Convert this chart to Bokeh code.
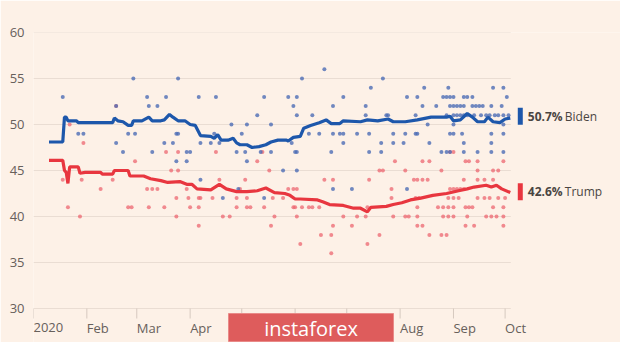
import datetime as dt
from bokeh.plotting import figure
from bokeh.models import Range1d, FixedTicker
from bokeh.core.properties import value
from bokeh.embed import file_html
from bokeh.resources import INLINE

# ---------------- data (days counted from 1 Jan 2020) ----------------
biden_day = [9, 17, 18, 19, 20, 25, 26, 46, 47, 49, 52, 55, 57, 58, 63, 67, 69, 74, 76, 79, 81, 84,
             88, 91, 94, 97, 103, 105, 107, 109, 113, 116, 118, 120, 124, 127, 131, 135, 138, 142,
             147, 148, 151, 155, 157, 161, 166, 170, 173, 178, 180, 190, 194, 200, 206, 209, 216,
             223, 231, 240, 242, 244, 248, 252, 255, 258, 262, 264, 267, 271, 274, 277]
biden_avg = [48.1, 48.1, 50.8, 50.8, 50.4, 50.4, 50.2, 50.2, 50.7, 50.4, 50.3, 49.9, 49.9, 50.4,
             50.4, 50.8, 50.4, 50.4, 50.5, 51.1, 50.8, 50.4, 50.4, 50.0, 49.9, 48.8, 48.7, 48.5,
             48.9, 48.3, 48.3, 48.5, 48.0, 47.8, 47.8, 47.5, 47.6, 47.8, 48.1, 48.3, 48.3, 48.2,
             48.6, 48.7, 49.6, 49.9, 50.2, 50.5, 50.1, 50.1, 50.4, 50.3, 50.5, 50.4, 50.6, 50.3,
             50.3, 50.5, 50.8, 50.8, 50.9, 50.4, 50.5, 51.2, 50.8, 50.3, 50.3, 50.8, 50.3, 50.2,
             50.6, 50.7]

trump_day = [9, 17, 18, 19, 20, 21, 26, 27, 30, 39, 40, 46, 47, 55, 56, 64, 68, 74, 78, 85, 89,
             92, 95, 103, 108, 112, 118, 124, 130, 135, 140, 146, 149, 152, 155, 165, 168, 172,
             180, 186, 190, 194, 196, 205, 209, 214, 219, 225, 232, 240, 247, 252, 256, 263, 266,
             269, 272, 277]
trump_avg = [46.1, 46.1, 45.0, 44.8, 43.6, 45.4, 45.4, 44.7, 44.8, 44.8, 44.6, 44.6, 45.0, 45.0,
             44.4, 44.4, 44.1, 43.9, 43.7, 43.8, 43.5, 43.5, 43.0, 42.9, 43.5, 43.0, 42.7, 42.7,
             42.8, 43.1, 42.6, 42.5, 42.3, 41.9, 41.9, 41.8, 41.6, 41.3, 41.2, 40.9, 40.9, 40.5,
             41.0, 41.1, 41.3, 41.5, 41.8, 42.0, 42.3, 42.5, 42.8, 43.0, 43.2, 43.4, 43.2, 43.4,
             43.0, 42.6]

biden_poll_day = [17, 58, 48, 66, 67, 72, 77, 84, 96, 106, 130, 134, 148, 151, 153, 156, 115, 124,
                  138, 153, 26, 29, 55, 59, 83, 84, 105, 121, 160, 48, 76, 81, 97, 103, 108, 150,
                  52, 69, 89, 91, 118, 123, 132, 138, 152, 153, 83, 89, 124, 145, 153, 97, 110, 119,
                  134, 169, 203, 196, 227, 241, 267, 273, 180, 217, 223, 238, 240, 242, 244, 250,
                  252, 255, 275, 174, 193, 226, 234, 242, 244, 246, 248, 250, 255, 257, 259, 261,
                  266, 272, 162, 193, 205, 206, 222, 240, 244, 246, 248, 250, 252, 256, 260, 263,
                  265, 268, 270, 273, 276, 229, 244, 273, 166, 174, 178, 180, 188, 195, 209, 216,
                  222, 223, 242, 244, 249, 266, 273, 180, 202, 209, 215, 230, 250, 266, 173, 195,
                  202, 237, 240, 242, 250, 258, 266, 273, 174, 185, 217]
biden_poll_val = [53, 55, 52, 53, 52, 52, 53, 55, 53, 53, 51, 53, 53, 52, 53, 55, 50, 50,
                  50, 51, 49, 49, 49, 49, 49, 49, 49, 49, 49, 48, 48, 48, 48, 48, 48, 48,
                  47, 47, 47, 47, 47, 47, 47, 47, 47, 47, 46, 46, 46, 45, 45, 44, 42, 43,
                  42, 56, 55, 54, 54, 54, 54, 54, 53, 53, 53, 53, 53, 53, 53, 53,
                  53, 53, 53, 52, 52, 52, 52, 52, 52, 52, 52, 52, 52, 52, 52, 52,
                  52, 52, 51, 51, 51, 51, 51, 51, 51, 51, 51, 51, 51, 51, 51, 51,
                  51, 51, 51, 51, 51, 50, 50, 50, 49, 49, 49, 49, 49, 49, 49, 49,
                  49, 49, 49, 49, 49, 49, 49, 48, 48, 48, 48, 48, 48, 48, 47, 47,
                  47, 47, 47, 47, 47, 47, 47, 47, 43, 43, 43]

trump_poll_day = [48, 21, 29, 59, 77, 84, 106, 130, 133, 137, 80, 84, 17, 20, 27, 28, 39, 46, 55,
                  57, 66, 69, 72, 67, 76, 83, 83, 89, 90, 91, 96, 97, 96, 96, 104, 108, 110, 114,
                  118, 118, 120, 123, 124, 126, 124, 134, 138, 139, 140, 145, 148, 151, 153, 151,
                  152, 153, 155, 156, 160, 210, 226, 230, 244, 242, 251, 253, 258, 273, 201, 203,
                  216, 237, 258, 267, 270, 169, 174, 195, 221, 223, 226, 229, 250, 258, 262, 267,
                  242, 244, 246, 248, 250, 208, 208, 222, 224, 241, 244, 247, 258, 262, 265, 270,
                  274, 162, 166, 194, 223, 235, 238, 241, 244, 251, 253, 255, 267, 273, 180, 188,
                  193, 209, 216, 218, 223, 238, 241, 244, 252, 263, 266, 269, 273, 174, 185, 223,
                  226, 251, 256, 273, 167, 173, 201, 230, 237, 240, 194, 173]
trump_poll_val = [52, 50, 48, 46, 47, 47, 47, 46, 47, 45, 45, 45, 44, 41, 40, 44, 43, 44, 41,
                  41, 43, 43, 43, 41, 41, 42, 40, 43, 42, 41, 42, 42, 41, 39, 42, 44, 40, 40,
                  42, 41, 43, 44, 41, 41, 42, 41, 39, 42, 40, 42, 43, 43, 43, 41,
                  41, 40, 37, 41, 41, 46, 46, 46, 47, 47, 46, 46, 46, 46, 45, 45,
                  45, 45, 45, 45, 45, 44, 44, 44, 44, 44, 44, 44, 44, 44, 44, 44,
                  43, 43, 43, 43, 43, 43, 42, 42, 42, 42, 42, 42, 42, 42, 42, 42,
                  42, 41, 41, 41, 41, 41, 41, 41, 41, 41, 41, 41, 41, 41, 40, 40,
                  40, 40, 40, 40, 40, 40, 40, 40, 40, 40, 40, 40, 40, 39, 39, 39,
                  39, 39, 39, 39, 38, 38, 38, 38, 38, 38, 37, 36]

month_ticks = ["2020-01-01", "2020-02-01", "2020-03-01", "2020-04-01", "2020-05-01",
               "2020-06-01", "2020-07-01", "2020-08-01", "2020-09-01", "2020-10-01"]
month_labels = ["2020", "Feb", "Mar", "Apr", "May", "Jun", "Jul", "Aug", "Sep", "Oct"]
y_ticks = [30, 35, 40, 45, 50, 55, 60]

biden_last, trump_last = "50.7%", "42.6%"
watermark = "instaforex"

# ---------------- layout constants ----------------
START = dt.datetime(2020, 1, 1)
PX_DAY = 1.7212          # pixels per day
PX_UNIT = 9.2            # pixels per percentage point
FRAME_W = 620 - 33
FRAME_H = 342 - 32
Y_MIN = 30 - 34 / PX_UNIT
X_MAX = FRAME_W / PX_DAY
DATA_END = 277.3


def d(n):
    return START + dt.timedelta(days=n)


def dx(px):               # pixel distance -> days
    return px / PX_DAY


def dy(px):               # pixel distance -> points
    return px / PX_UNIT


BG = "#fdf1e7"
GRID = "#eaddd3"
BLUE = "#1d57ab"
RED = "#e8363f"
TXT = "#67605b"
FONT = "Open Sans"

p = figure(width=620, height=342, output_backend="svg", toolbar_location=None,
           x_axis_type="datetime", x_axis_location=None,
           x_range=Range1d(d(0), d(X_MAX)), y_range=Range1d(Y_MIN, 60),
           min_border_left=33, min_border_right=0, min_border_top=32, min_border_bottom=0)
p.background_fill_color = BG
p.border_fill_color = BG
p.outline_line_color = None
p.xgrid.grid_line_color = None
p.ygrid.grid_line_color = None

# y axis (labels only)
p.yaxis.ticker = FixedTicker(ticks=y_ticks)
p.yaxis.axis_line_color = None
p.yaxis.major_tick_line_color = None
p.yaxis.minor_tick_line_color = None
p.yaxis.major_label_standoff = 3
p.yaxis.major_label_text_font = FONT
p.yaxis.major_label_text_font_size = "13px"
p.yaxis.major_label_text_color = TXT

# horizontal gridlines, ending with the data
p.segment(x0=[d(0)] * len(y_ticks), x1=[d(DATA_END)] * len(y_ticks),
          y0=y_ticks, y1=y_ticks, line_color=GRID, line_width=1)

# month ticks and left-aligned labels
month_dt = [dt.datetime.strptime(m, "%Y-%m-%d") for m in month_ticks]
p.segment(x0=month_dt, x1=month_dt, y0=[30] * len(month_dt),
          y1=[30 - dy(10)] * len(month_dt), line_color="#d6c9bf", line_width=1)
p.text(x=month_dt, y=[30 - dy(19)] * len(month_dt), text=month_labels,
       text_font=value(FONT), text_font_size=value("13px"), text_color=TXT,
       text_align="left", text_baseline="middle")

# poll dots
p.scatter([d(x) for x in trump_poll_day], trump_poll_val, size=4, color="#ec6670",
          alpha=0.75, line_color=None)
p.scatter([d(x) for x in biden_poll_day], biden_poll_val, size=4, color="#4c6db5",
          alpha=0.8, line_color=None)

# averages
p.line([d(x) for x in biden_day], biden_avg, line_color=BLUE, line_width=3.2)
p.line([d(x) for x in trump_day], trump_avg, line_color=RED, line_width=3.2)

# end labels
bar_x = DATA_END + dx(7)
for val, col, pct, name in [(50.9, BLUE, biden_last, "Biden"), (42.7, RED, trump_last, "Trump")]:
    p.quad(left=[d(bar_x)], right=[d(bar_x + dx(5))], bottom=[val - dy(8.5)],
           top=[val + dy(8.5)], fill_color=col, line_color=None)
    p.text(x=[d(bar_x + dx(10))], y=[val], text=[pct], text_font=value(FONT),
           text_font_style="bold", text_font_size=value("12px"), text_color="#4a4542",
           text_align="left", text_baseline="middle")
    p.text(x=[d(bar_x + dx(47))], y=[val], text=[name], text_font=value(FONT),
           text_font_size=value("12px"), text_color="#4a4542",
           text_align="left", text_baseline="middle")

# watermark
wm_x = dx(310.5 - 33)
p.rect(x=[d(wm_x)], y=[30 - dy(19)], width=dx(165) * 86400000, height=dy(28),
       fill_color="#de5c5c", line_color="#e98a88", line_width=1)
p.text(x=[d(wm_x)], y=[30 - dy(19.5)], text=[watermark], text_font=value(FONT),
       text_font_size=value("20px"), text_color="#ffffff",
       text_align="center", text_baseline="middle")

open("out.html", "w").write(file_html(p, INLINE))
